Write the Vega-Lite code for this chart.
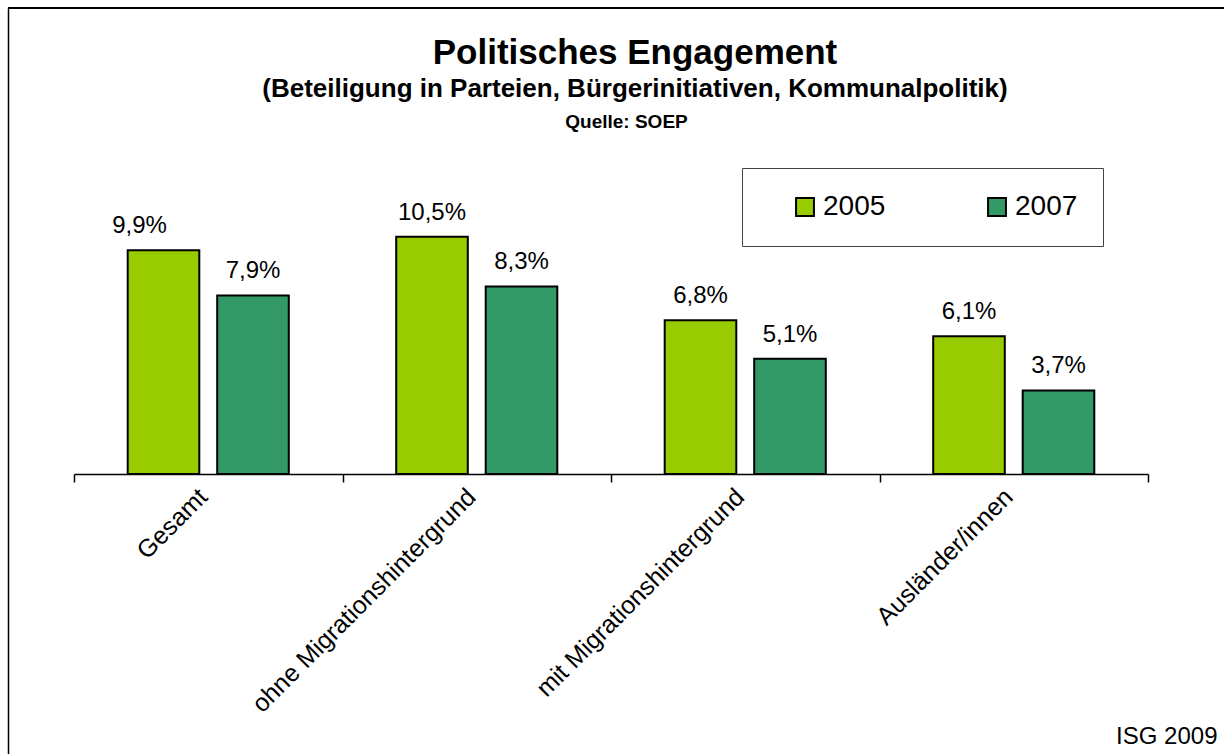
{
  "$schema": "https://vega.github.io/schema/vega-lite/v6.json",
  "autosize": {"type": "none"},
  "padding": {"left": 8, "top": 8, "right": 0, "bottom": 0},
  "width": 1216,
  "height": 746,
  "background": "white",
  "title": {
    "text": "Politisches Engagement",
    "subtitle": "(Beteiligung in Parteien, Bürgerinitiativen, Kommunalpolitik)",
    "fontSize": 35,
    "fontWeight": "bold",
    "color": "black",
    "subtitleFontSize": 26,
    "subtitleFontWeight": "bold",
    "subtitleColor": "black",
    "anchor": "middle",
    "frame": "group",
    "offset": -95,
    "dx": 19,
    "subtitlePadding": 5
  },
  "data": {
    "values": [
      {"Kategorie": "Gesamt", "Jahr": "2005", "Anteil": 0.099},
      {"Kategorie": "Gesamt", "Jahr": "2007", "Anteil": 0.079},
      {"Kategorie": "ohne Migrationshintergrund", "Jahr": "2005", "Anteil": 0.105},
      {"Kategorie": "ohne Migrationshintergrund", "Jahr": "2007", "Anteil": 0.083},
      {"Kategorie": "mit Migrationshintergrund", "Jahr": "2005", "Anteil": 0.068},
      {"Kategorie": "mit Migrationshintergrund", "Jahr": "2007", "Anteil": 0.051},
      {"Kategorie": "Ausländer/innen", "Jahr": "2005", "Anteil": 0.061},
      {"Kategorie": "Ausländer/innen", "Jahr": "2007", "Anteil": 0.037}
    ]
  },
  "encoding": {
    "y": {
      "field": "Anteil",
      "type": "quantitative",
      "scale": {"domain": [-0.12389, 0.2062], "nice": false},
      "axis": {
        "title": "ISG 2009",
        "titleAngle": 0,
        "titleX": 1209,
        "titleY": 735,
        "titleAlign": "right",
        "titleBaseline": "alphabetic",
        "titleFontSize": 24,
        "titleFontWeight": "normal",
        "titleColor": "black",
        "domain": true,
        "domainColor": "black",
        "domainWidth": 1.5,
        "ticks": false,
        "labels": false,
        "grid": false
      }
    }
  },
  "layer": [
    {
      "mark": {"type": "rule", "color": "black", "strokeWidth": 1.5},
      "encoding": {
        "y": {"datum": 0.2062}
      }
    },
    {
      "mark": {"type": "bar", "stroke": "black", "strokeWidth": 2},
      "encoding": {
        "x": {
          "field": "Kategorie",
          "type": "nominal",
          "sort": null,
          "scale": {"range": [66, 1140], "paddingInner": 0, "paddingOuter": 0},
          "axis": {
            "title": "Quelle: SOEP",
            "titleFontSize": 19,
            "titleFontWeight": "bold",
            "titleColor": "black",
            "titleX": 618,
            "titleY": -347,
            "titleAlign": "center",
            "titleBaseline": "alphabetic",
            "offset": -280,
            "tickBand": "extent",
            "domainColor": "black",
            "domainWidth": 1.5,
            "tickColor": "black",
            "tickWidth": 1.5,
            "tickSize": 8,
            "labelAngle": -45,
            "labelFontSize": 25,
            "labelColor": "black",
            "labelLimit": 600,
            "labelPadding": 2,
            "labelOffset": -14,
            "grid": false
          }
        },
        "xOffset": {
          "field": "Jahr",
          "type": "nominal",
          "scale": {"paddingInner": 0.2, "paddingOuter": 0.6}
        },
        "color": {
          "field": "Jahr",
          "type": "nominal",
          "scale": {"domain": ["2005", "2007"], "range": ["#99CC00", "#339966"]},
          "legend": {
            "title": null,
            "orient": "none",
            "legendX": 734,
            "legendY": 160,
            "direction": "horizontal",
            "columns": 2,
            "padding": 25,
            "strokeColor": "#444444",
            "fillColor": "white",
            "symbolType": "square",
            "symbolSize": 320,
            "symbolStrokeColor": "black",
            "symbolStrokeWidth": 2,
            "symbolOffset": 24,
            "labelFontSize": 28,
            "labelColor": "black",
            "labelOffset": 4,
            "columnPadding": 73
          }
        }
      }
    },
    {
      "mark": {
        "type": "text",
        "fontSize": 24,
        "color": "black",
        "baseline": "alphabetic",
        "dy": -17,
        "dx": {"expr": "datum.Kategorie === 'Gesamt' && datum.Jahr === '2005' ? -24 : 0"}
      },
      "encoding": {
        "x": {"field": "Kategorie", "type": "nominal", "sort": null},
        "xOffset": {"field": "Jahr", "type": "nominal"},
        "text": {"field": "Anteil", "type": "quantitative", "format": ".1%"}
      }
    }
  ],
  "config": {
    "font": "Liberation Sans",
    "locale": {"number": {"decimal": ",", "thousands": ".", "grouping": [3], "currency": ["", " €"]}},
    "view": {"stroke": null}
  }
}
